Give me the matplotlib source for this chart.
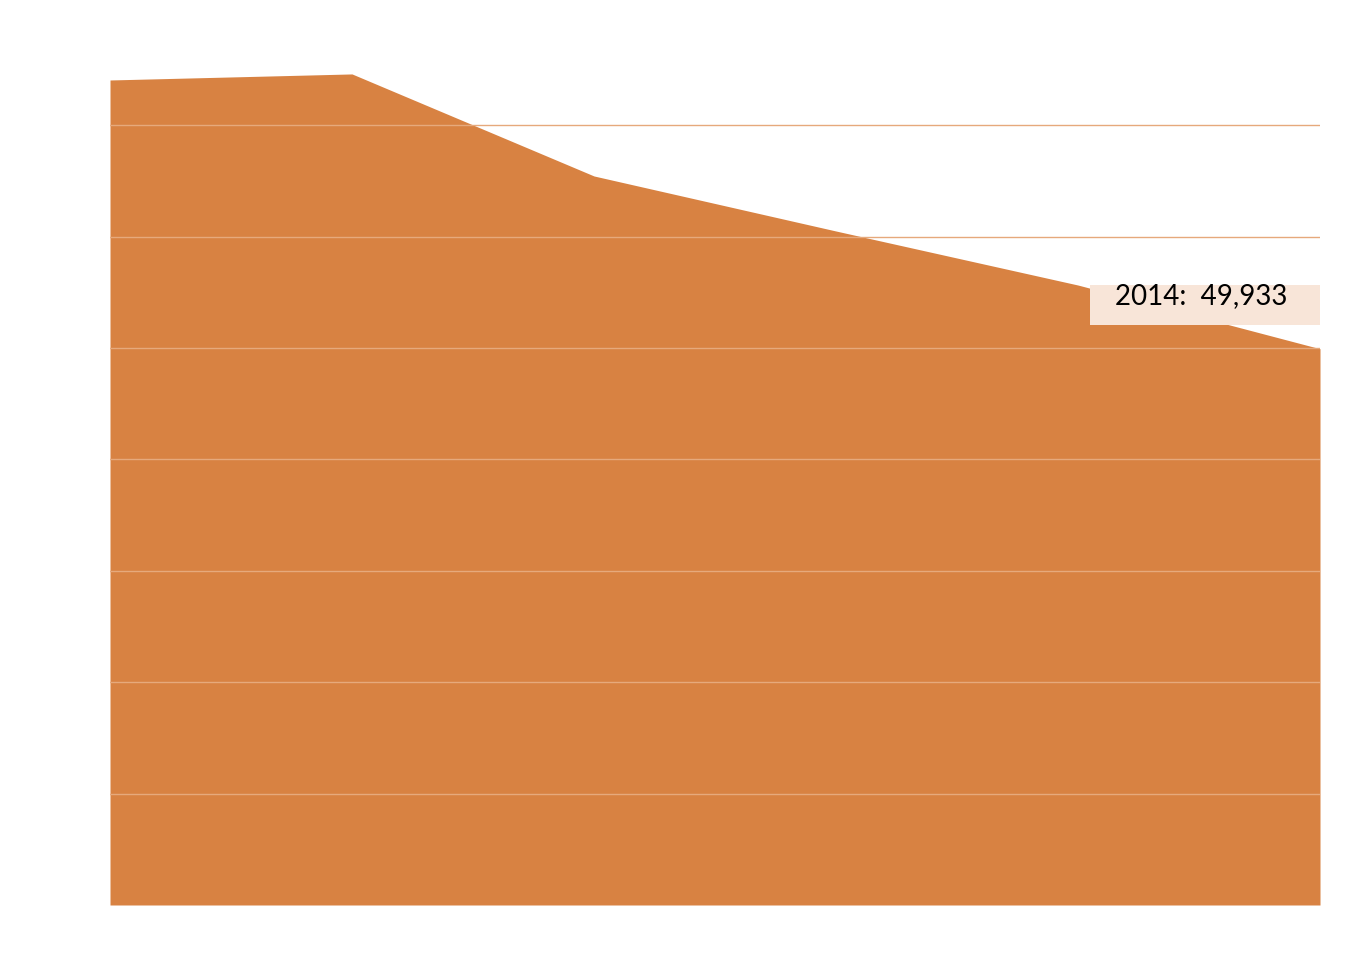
import matplotlib
matplotlib.use("Agg")
import matplotlib.pyplot as plt
from matplotlib.patches import Rectangle

years = [2009, 2010, 2011, 2012, 2013, 2014]
values = [74057, 74600, 65440, 60500, 55650, 49933]
color = "#d88242"

W, H = 1350, 958
fig = plt.figure(figsize=(W/100, H/100), dpi=100)
ax = fig.add_axes([110/W, (H-905)/H, 1210/W, (905-47.2)/H])
ax.fill_between(years, values, 0, color=color, linewidth=0)
ax.set_xlim(years[0], years[-1])
ax.set_ylim(0, 77000)
for g in range(10000, 80000, 10000):
    ax.axhline(g, color="#e6a97c", linewidth=1, zorder=3)
for s in ax.spines.values():
    s.set_visible(False)
ax.set_xticks([]); ax.set_yticks([])

fig.patches.append(Rectangle((1090/W, (H-325)/H), 230/W, 40/H,
                             transform=fig.transFigure, facecolor="#f8e5d8",
                             edgecolor="none", zorder=5))
fig.text(1115/W, (H-296)/H, f"{years[-1]}: {values[-1]:,}".replace(": ", ":  "),
         family=["Lato", "DejaVu Sans"], fontsize=20, va="center", ha="left", zorder=6)
fig.savefig("out.png", dpi=100)
